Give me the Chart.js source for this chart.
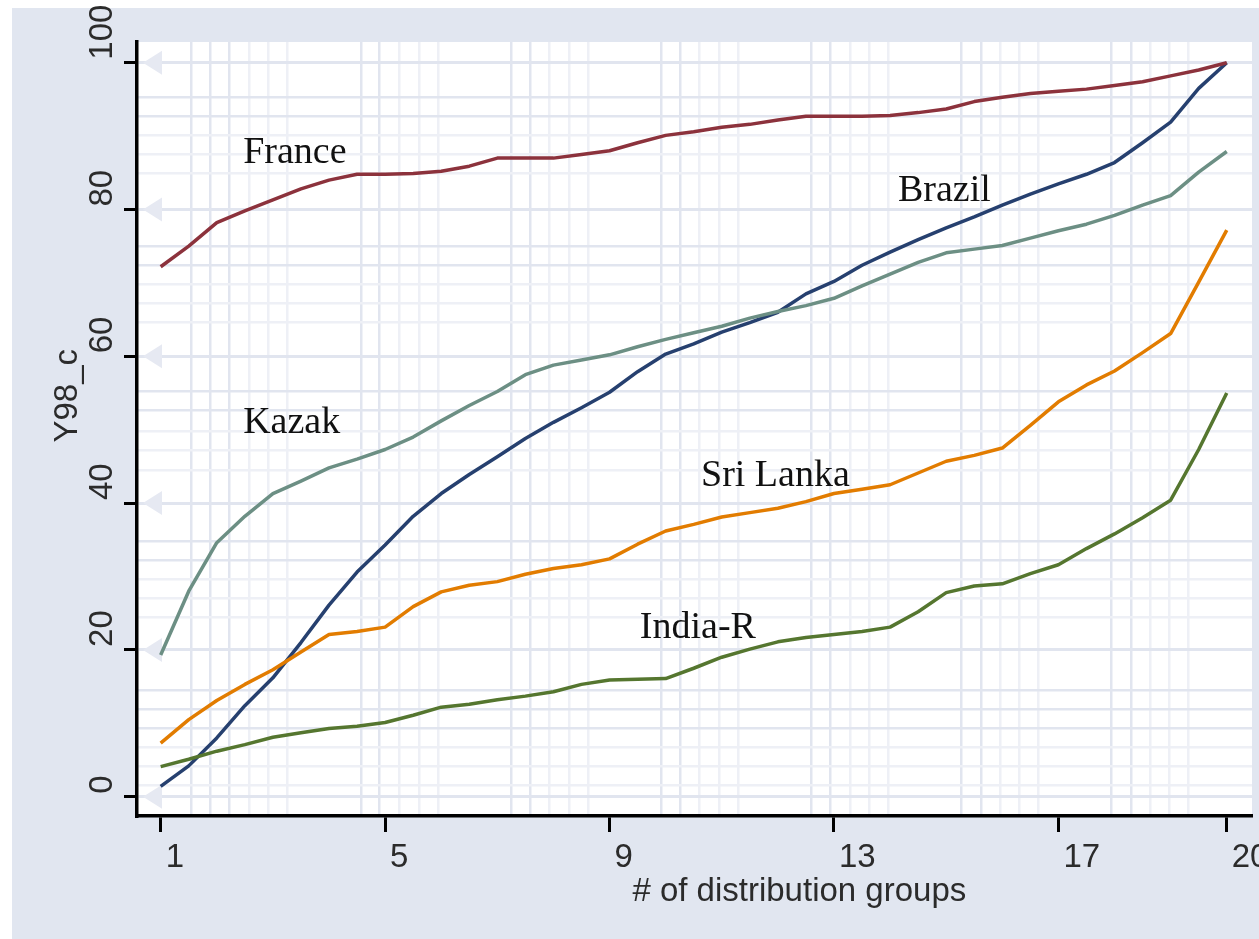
<!DOCTYPE html>
<html>
<head>
<meta charset="utf-8">
<title>Y98_c by # of distribution groups</title>
<script src="https://cdn.jsdelivr.net/npm/chart.js@4.4.0/dist/chart.umd.min.js"></script>
<style>
  html, body { margin: 0; padding: 0; background: #fff; }
  canvas { display: block; }
</style>
</head>
<body>
<canvas id="chart" width="1259" height="939"></canvas>
<script>
// sampled positions along the x axis (# of distribution groups)
const groups = [1, 1.5, 2, 2.5, 3, 3.5, 4, 4.5, 5, 5.5, 6, 6.5, 7, 7.5, 8, 8.5, 9, 9.5, 10, 10.5,
                11, 11.5, 12, 12.5, 13, 13.5, 14, 14.5, 15, 15.5, 16, 16.5, 17, 17.5, 18, 18.5, 19, 19.5, 20];

// Y98_c per country
const france   = [72.2, 75.0, 78.2, 79.8, 81.3, 82.8, 84.0, 84.8, 84.8, 84.9, 85.2, 85.9, 87.0, 87.0, 87.0, 87.5, 88.0, 89.1, 90.1, 90.6,
                  91.2, 91.6, 92.2, 92.7, 92.7, 92.7, 92.8, 93.2, 93.7, 94.7, 95.3, 95.8, 96.1, 96.4, 96.9, 97.4, 98.2, 99.0, 100];
const brazil   = [1.4, 4.2, 8.0, 12.4, 16.2, 21.0, 26.1, 30.6, 34.3, 38.2, 41.3, 43.9, 46.3, 48.8, 51.0, 53.0, 55.1, 57.9, 60.3, 61.7,
                  63.3, 64.6, 66.0, 68.5, 70.2, 72.4, 74.2, 75.9, 77.5, 79.0, 80.6, 82.1, 83.5, 84.8, 86.4, 89.1, 91.9, 96.5, 100];
const kazak    = [19.3, 28.0, 34.6, 38.2, 41.3, 43.0, 44.8, 46.0, 47.3, 49.0, 51.2, 53.3, 55.2, 57.5, 58.8, 59.5, 60.2, 61.3, 62.3, 63.2,
                  64.1, 65.2, 66.1, 66.9, 67.9, 69.6, 71.2, 72.8, 74.1, 74.6, 75.1, 76.1, 77.1, 78.0, 79.2, 80.6, 81.9, 85.1, 87.9];
const sriLanka = [7.3, 10.5, 13.1, 15.3, 17.3, 19.7, 22.1, 22.5, 23.1, 25.9, 27.9, 28.8, 29.3, 30.3, 31.1, 31.6, 32.4, 34.4, 36.2, 37.1,
                  38.1, 38.7, 39.3, 40.2, 41.3, 41.9, 42.5, 44.1, 45.7, 46.5, 47.5, 50.6, 53.8, 56.1, 58.0, 60.5, 63.1, 70.1, 77.2];
const indiaR   = [4.1, 5.1, 6.2, 7.1, 8.1, 8.7, 9.3, 9.6, 10.1, 11.1, 12.2, 12.6, 13.2, 13.7, 14.3, 15.3, 15.9, 16.0, 16.1, 17.5,
                  19.0, 20.1, 21.1, 21.7, 22.1, 22.5, 23.1, 25.2, 27.8, 28.7, 29.0, 30.4, 31.6, 33.8, 35.8, 38.0, 40.4, 47.3, 55.0];

// axis ticks
const xTicks = [1, 5, 9, 13, 17, 20];
const yTicks = [0, 20, 40, 60, 80, 100];

// extra grid lines (stata style), in axis units
const xGrid = [1.54, 1.88, 2.23, 2.57, 2.91, 3.26, 4.57, 4.90, 5.25, 5.60, 5.94, 7.24, 7.58, 7.92, 8.28, 8.62,
               9.92, 10.26, 10.60, 10.95, 11.29, 12.59, 12.93, 13.29, 13.63, 13.97, 15.27, 15.62, 15.97, 16.30, 16.64,
               17.94, 18.30, 18.64, 18.98, 19.32];
const yGrid = [95.29, 92.70, 90.11, 87.52, 84.93, 75.00, 72.44, 69.85, 67.26, 64.67, 55.20, 52.60, 49.73, 47.14, 44.50,
               34.74, 32.15, 29.62, 27.03, 24.44, 14.44, 11.85, 9.26, 6.68, 4.09, 1.50];
// which of those lines are drawn in the stronger shade
const xGridStrong = [1,1,1,0,0,0, 1,1,0,0,0, 1,1,0,0,0, 1,1,0,0,0, 1,1,0,0,0, 1,1,0,0,0, 1,1,0,0,0];
const yGridStrong = [1,1,0,0,0, 1,1,0,0,0, 1,1,0,0,0, 1,1,0,0,0, 1,1,1,0,0,0];

// in-plot country labels: [name, x, y] anchor in axis units
const seriesLabels = [
  ['France', 2.47, 86.3],
  ['Brazil', 14.14, 81.1],
  ['Kazak', 2.47, 49.6],
  ['Sri Lanka', 10.63, 42.3],
  ['India-R', 9.54, 21.6]
];

const PANEL = '#e1e6f0';
const GRID_DARK = '#e1e5ef';
const GRID_LIGHT = '#eef0f6';
const SANS = '"Liberation Sans", Arial, sans-serif';
const SERIF = '"Liberation Serif", "Times New Roman", serif';

function series(label, values, color) {
  return {
    label,
    data: groups.map((g, i) => ({ x: g, y: values[i] })),
    borderColor: color,
    borderWidth: 3.5,
    borderJoinStyle: 'round',
    pointRadius: 0,
    tension: 0,
    fill: false
  };
}

const framePlugin = {
  id: 'frame',
  beforeDraw(chart) {
    const { ctx, chartArea: a, width, height } = chart;
    ctx.save();
    ctx.fillStyle = '#fff';
    ctx.fillRect(0, 0, width, height);
    ctx.fillStyle = PANEL;
    ctx.fillRect(12, 8, width - 12, height - 8);
    ctx.fillStyle = '#fff';
    ctx.fillRect(a.left, a.top, a.right - a.left, a.bottom - a.top);
    ctx.restore();
  },
  beforeDatasetsDraw(chart) {
    // pale arrow heads where the major y lines meet the axis
    const { ctx, chartArea: a, scales: { y } } = chart;
    ctx.save();
    ctx.fillStyle = '#e6e9f2';
    yTicks.forEach(v => {
      const py = y.getPixelForValue(v);
      ctx.beginPath();
      ctx.moveTo(a.left + 6, py);
      ctx.lineTo(a.left + 25, py - 12);
      ctx.lineTo(a.left + 25, py + 12);
      ctx.closePath();
      ctx.fill();
    });
    ctx.restore();
  },
  afterDraw(chart) {
    const { ctx, chartArea: a, scales: { x, y } } = chart;
    ctx.save();

    // country names
    ctx.fillStyle = '#111';
    ctx.font = '38px ' + SERIF;
    ctx.textAlign = 'left';
    ctx.textBaseline = 'alphabetic';
    seriesLabels.forEach(([name, lx, ly]) => {
      ctx.fillText(name, x.getPixelForValue(lx), y.getPixelForValue(ly));
    });

    // tick labels
    ctx.fillStyle = '#2b2b2b';
    ctx.font = '33px ' + SANS;
    xTicks.forEach(v => ctx.fillText(String(v), x.getPixelForValue(v) + 5, a.bottom + 51));
    yTicks.forEach(v => {
      ctx.save();
      ctx.translate(a.left - 25, y.getPixelForValue(v) - 3);
      ctx.rotate(-Math.PI / 2);
      ctx.fillText(String(v), 0, 0);
      ctx.restore();
    });

    // axis titles
    ctx.textAlign = 'center';
    ctx.fillText('# of distribution groups', a.left + (a.right - a.left) * 0.594, a.bottom + 85);
    ctx.save();
    ctx.translate(a.left - 60, a.top + (a.bottom - a.top) * 0.457);
    ctx.rotate(-Math.PI / 2);
    ctx.fillText('Y98_c', 0, 0);
    ctx.restore();

    ctx.restore();
  }
};

const X_MIN = 0.578, X_MAX = 20.45;
const Y_MIN = -2.63, Y_MAX = 102.82;

new Chart(document.getElementById('chart'), {
  type: 'line',
  data: {
    datasets: [
      series('Sri Lanka', sriLanka, '#e27c00'),
      series('Kazak', kazak, '#6c8f84'),
      series('India-R', indiaR, '#55762f'),
      series('France', france, '#8c323c'),
      series('Brazil', brazil, '#26406f')
    ]
  },
  options: {
    responsive: false,
    animation: false,
    layout: { padding: { top: 42, right: 7, left: 0, bottom: 0 } },
    plugins: { legend: { display: false }, tooltip: { enabled: false } },
    scales: {
      x: {
        type: 'linear', position: 'bottom', min: X_MIN, max: X_MAX,
        afterBuildTicks: s => { s.ticks = xTicks.map(v => ({ value: v })); },
        afterFit: s => { s.height = 123; },
        ticks: { display: false },
        grid: { drawOnChartArea: false, drawTicks: true, tickLength: 16, tickWidth: 3, tickColor: '#000' },
        border: { display: true, color: '#000', width: 3.4 }
      },
      xMinor: {
        type: 'linear', position: 'bottom', min: X_MIN, max: X_MAX,
        afterBuildTicks: s => { s.ticks = xGrid.map(v => ({ value: v })); },
        afterFit: s => { s.height = 0; },
        ticks: { display: false },
        grid: { drawTicks: false, lineWidth: 2.5, color: c => xGridStrong[c.index] ? GRID_DARK : GRID_LIGHT },
        border: { display: false }
      },
      y: {
        type: 'linear', position: 'left', min: Y_MIN, max: Y_MAX,
        afterBuildTicks: s => { s.ticks = yTicks.map(v => ({ value: v })); },
        afterFit: s => { s.width = 137; },
        ticks: { display: false },
        grid: { color: GRID_DARK, lineWidth: 3, drawTicks: true, tickLength: 13, tickWidth: 3, tickColor: '#000' },
        border: { display: true, color: '#000', width: 3.5 }
      },
      yMinor: {
        type: 'linear', position: 'left', min: Y_MIN, max: Y_MAX,
        afterBuildTicks: s => { s.ticks = yGrid.map(v => ({ value: v })); },
        afterFit: s => { s.width = 0; },
        ticks: { display: false },
        grid: { drawTicks: false, lineWidth: 2.5, color: c => yGridStrong[c.index] ? GRID_DARK : GRID_LIGHT },
        border: { display: false }
      }
    }
  },
  plugins: [framePlugin]
});
</script>
</body>
</html>
